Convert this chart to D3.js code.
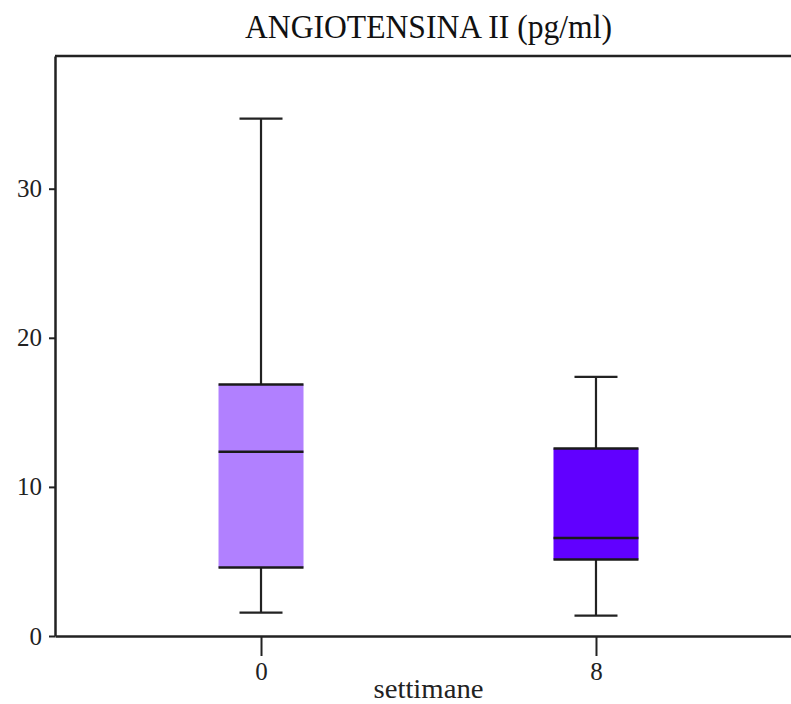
<!DOCTYPE html>
<html><head><meta charset="utf-8">
<script src="https://cdn.jsdelivr.net/npm/d3@7"></script>
<style>body{margin:0;background:#fff}svg{display:block}</style>
</head><body><svg id="c" width="791" height="704"></svg>
<script>
const categories = ["0", "8"];
const whiskerLow = [1.57, 1.37];
const q1 = [4.59, 5.13];
const median = [12.35, 6.58];
const q3 = [16.87, 12.58];
const whiskerHigh = [34.7, 17.38];
const colors = ["#b180ff", "#6100ff"];
const yTicks = [0, 10, 20, 30];
const title = "ANGIOTENSINA II (pg/ml)";
const xTitle = "settimane";

(function () {
const svg = d3.select("#c");
const mL = 55, mR = 802, mT = 56, mB = 636;
const font = "'Liberation Serif', serif";
const ink = "#222";

const x = d3.scalePoint().domain(categories).range([mL, mR]).padding(0.615);
const y = d3.scaleLinear().domain([0, 38.9]).range([mB, mT]);

svg.append("line").attr("x1", mL).attr("x2", 791).attr("y1", mT).attr("y2", mT)
  .attr("stroke", ink).attr("stroke-width", 2.5);

const yAxis = svg.append("g").attr("transform", `translate(${mL},0)`)
  .call(d3.axisLeft(y).tickValues(yTicks).tickSize(6).tickPadding(7).tickSizeOuter(0));
yAxis.select(".domain").attr("stroke", ink).attr("stroke-width", 2.5);
yAxis.selectAll(".tick line").attr("stroke", ink).attr("stroke-width", 2);
yAxis.selectAll("text").attr("font-family", font).attr("font-size", 25).attr("fill", "#222");

const xAxis = svg.append("g").attr("transform", `translate(0,${mB})`)
  .call(d3.axisBottom(x).tickSize(20).tickPadding(6).tickSizeOuter(0));
xAxis.select(".domain").attr("stroke", ink).attr("stroke-width", 2.5);
xAxis.selectAll(".tick line").attr("stroke", ink).attr("stroke-width", 2);
xAxis.selectAll("text").attr("font-family", font).attr("font-size", 25).attr("fill", "#222");

const boxW = 85, capW = 43;
const g = svg.append("g");
categories.forEach((c, i) => {
  const cx = x(c);
  g.append("line").attr("x1", cx).attr("x2", cx).attr("y1", y(whiskerLow[i])).attr("y2", y(whiskerHigh[i]))
    .attr("stroke", ink).attr("stroke-width", 2.2);
  g.append("rect").attr("x", cx - boxW / 2).attr("width", boxW)
    .attr("y", y(q3[i])).attr("height", y(q1[i]) - y(q3[i])).attr("fill", colors[i]);
  [q1[i], median[i], q3[i]].forEach(v => {
    g.append("line").attr("x1", cx - boxW / 2).attr("x2", cx + boxW / 2).attr("y1", y(v)).attr("y2", y(v))
      .attr("stroke", "#1a1a1a").attr("stroke-width", 2.5);
  });
  [whiskerLow[i], whiskerHigh[i]].forEach(v => {
    g.append("line").attr("x1", cx - capW / 2).attr("x2", cx + capW / 2).attr("y1", y(v)).attr("y2", y(v))
      .attr("stroke", ink).attr("stroke-width", 2.2);
  });
});

svg.append("text").attr("x", 428.5).attr("y", 38).attr("text-anchor", "middle")
  .attr("font-family", font).attr("font-size", 34).attr("fill", "#111")
  .attr("textLength", 367).attr("lengthAdjust", "spacingAndGlyphs").text(title);

svg.append("text").attr("x", 428.5).attr("y", 698).attr("text-anchor", "middle")
  .attr("font-family", font).attr("font-size", 27).attr("fill", "#222")
  .attr("textLength", 110).attr("lengthAdjust", "spacingAndGlyphs").text(xTitle);
})();
</script></body></html>
